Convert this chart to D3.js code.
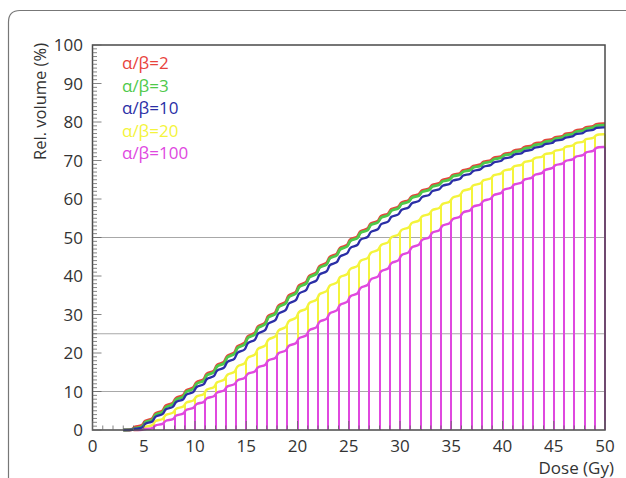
<!DOCTYPE html>
<html>
<head>
<meta charset="utf-8">
<script src="https://cdn.jsdelivr.net/npm/d3@7/dist/d3.min.js"></script>
<style>
  html, body { margin: 0; padding: 0; background: #fff; }
  svg { display: block; }
  text { font-family: "Open Sans", "Noto Sans", sans-serif; }
</style>
</head>
<body>
<svg id="chart" width="626" height="478"></svg>
<script>
// ---- data (bins of 1 Gy, 0..50) ----
const seriesNames = ["α/β=2", "α/β=3", "α/β=10", "α/β=20", "α/β=100"];
const ab2 = [0,0,0,0,0.9,2.6,4.6,6.6,8.6,10.6,12.7,14.9,17.2,19.6,22.1,24.7,27.3,30.0,32.7,35.3,37.9,40.4,42.9,45.3,47.6,49.8,51.9,53.9,55.8,57.6,59.3,60.9,62.4,63.8,65.1,66.4,67.6,68.7,69.8,70.8,71.8,72.7,73.6,74.5,75.3,76.1,77.0,77.9,78.7,79.5];
const ab3 = [0,0,0,0,0.6,2.3,4.3,6.3,8.3,10.3,12.4,14.6,16.9,19.3,21.8,24.4,27.0,29.7,32.4,35.0,37.6,40.1,42.6,45.0,47.3,49.5,51.6,53.6,55.5,57.3,59.0,60.6,62.1,63.5,64.8,66.1,67.3,68.4,69.5,70.5,71.5,72.4,73.3,74.2,75.0,75.8,76.7,77.6,78.4,79.2];
const ab10 = [0,0,0,0,0.4,1.9,3.8,5.7,7.6,9.5,11.5,13.6,15.8,18.1,20.5,23.0,25.5,28.1,30.7,33.3,35.9,38.4,40.8,43.2,45.5,47.7,49.8,51.8,53.8,55.7,57.5,59.2,60.8,62.3,63.7,65.0,66.3,67.5,68.6,69.7,70.7,71.7,72.6,73.5,74.4,75.3,76.1,77.0,77.8,78.6];
const ab20 = [0,0,0,0,0,1.0,2.6,4.2,5.8,7.4,9.0,10.8,12.7,14.7,16.9,19.2,21.5,23.9,26.3,28.7,31.1,33.4,35.7,37.9,40.1,42.2,44.3,46.4,48.4,50.4,52.3,54.1,55.8,57.4,59.0,60.7,62.4,63.8,65.1,66.4,67.6,68.7,69.8,70.8,71.8,72.7,73.7,74.7,75.7,76.8];
const ab100 = [0,0,0,0,0,0.3,1.4,2.6,4.0,5.5,7.0,8.5,10.0,11.6,13.2,14.9,16.6,18.4,20.3,22.2,24.2,26.3,28.5,30.7,32.9,35.1,37.3,39.5,41.6,43.7,45.8,47.8,49.7,51.6,53.4,55.1,56.8,58.3,59.8,61.3,62.7,64.0,65.3,66.5,67.8,69.0,70.1,71.2,72.3,73.5];
const xTicks = [0,5,10,15,20,25,30,35,40,45,50];
const yTicks = [0,10,20,30,40,50,60,70,80,90,100];
const gridValues = [10, 25, 50];
const colors = ["#e8433c", "#4ec94a", "#2a2ea6", "#f4f43c", "#e048df"];

// ---- layout ----
const svg = d3.select("#chart");
const L = 92.5, R = 605, T = 45, B = 430;
const x = d3.scaleLinear().domain([0, 50]).range([L, R]);
const y = d3.scaleLinear().domain([0, 100]).range([B, T]);

// outer rounded border
svg.append("path")
  .attr("d", "M8.5,478 V22 Q8.5,10.5 20,10.5 H626")
  .attr("fill", "none").attr("stroke", "#777").attr("stroke-width", 1.2);

// grid lines
svg.append("g").selectAll("line").data(gridValues).join("line")
  .attr("x1", L).attr("x2", R)
  .attr("y1", d => y(d)).attr("y2", d => y(d))
  .attr("stroke", "#a8a8a8").attr("stroke-width", 1);

function stepPoints(vals) {
  const first = Math.max(0, vals.findIndex(v => v > 0) - 1);
  const pts = [];
  vals.forEach((v, i) => { if (i >= first) { pts.push([i, v]); pts.push([i + 1, v]); } });
  return pts;
}
const smooth = d3.line().x(d => x(d[0])).y(d => y(d[1])).curve(d3.curveBasis);

function edgeValues(vals) {
  return d3.range(0, vals.length + 1).map(i => {
    const a = i > 0 ? vals[i - 1] : 0;
    const b = i < vals.length ? vals[i] : a;
    return (a + b) / 2;
  });
}

// bar-style histograms: vertical lines from the top down to the next histogram below
function bars(vals, below, color, width) {
  const g = svg.append("g");
  const top = edgeValues(vals);
  const bot = below ? edgeValues(below) : top.map(() => 0);
  const edges = top.map((v, e) => ({ e, v, b: bot[e] })).filter(d => d.v > 0);
  g.selectAll("line.v").data(edges).join("line")
    .attr("class", "v")
    .attr("x1", d => Math.round(x(d.e))).attr("x2", d => Math.round(x(d.e)))
    .attr("y1", d => y(d.v)).attr("y2", d => y(d.b))
    .attr("stroke", color).attr("stroke-width", width);
  g.append("path").datum(stepPoints(vals)).attr("d", smooth)
    .attr("fill", "none").attr("stroke", color).attr("stroke-width", width + 0.4);
}

function stepLine(vals, color, width) {
  svg.append("path").datum(stepPoints(vals)).attr("d", smooth)
    .attr("fill", "none").attr("stroke", color).attr("stroke-width", width);
}

bars(ab20, ab100, colors[3], 2);
bars(ab100, null, colors[4], 2);
stepLine(ab2, colors[0], 3.2);
stepLine(ab3, colors[1], 2.8);
stepLine(ab10, colors[2], 2.3);

// frame
svg.append("rect").attr("x", L).attr("y", T).attr("width", R - L).attr("height", B - T)
  .attr("fill", "none").attr("stroke", "#4a4a4a").attr("stroke-width", 1.5);

// y ticks
const yMinor = d3.range(0, 101, 1);
svg.append("g").selectAll("line").data(yMinor).join("line")
  .attr("x1", L).attr("x2", d => L + (d % 10 === 0 ? 9 : 4.5))
  .attr("y1", d => y(d)).attr("y2", d => y(d))
  .attr("stroke", "#666").attr("stroke-width", 0.8);
// x ticks
const xMinor = d3.range(0, 51, 1);
svg.append("g").selectAll("line").data(xMinor).join("line")
  .attr("x1", d => x(d)).attr("x2", d => x(d))
  .attr("y1", B).attr("y2", d => B - (d % 5 === 0 ? 9 : 4.5))
  .attr("stroke", "#666").attr("stroke-width", 0.8);

// tick labels
svg.append("g").selectAll("text").data(yTicks).join("text")
  .attr("x", 83).attr("y", d => y(d)).attr("dy", "0.36em")
  .attr("text-anchor", "end").attr("font-size", 17).attr("fill", "#333")
  .text(d => d);
svg.append("g").selectAll("text").data(xTicks).join("text")
  .attr("x", d => x(d)).attr("y", 452)
  .attr("text-anchor", "middle").attr("font-size", 17).attr("fill", "#333")
  .text(d => d);

// axis titles
svg.append("text").attr("x", 614).attr("y", 474).attr("text-anchor", "end")
  .attr("font-size", 17).attr("fill", "#333").text("Dose (Gy)");
svg.append("text").attr("transform", "translate(46,43) rotate(-90)")
  .attr("text-anchor", "end").attr("font-size", 16.5).attr("fill", "#333")
  .text("Rel. volume (%)");

// legend
svg.append("g").selectAll("text").data(seriesNames).join("text")
  .attr("x", 122).attr("y", (d, i) => 63 + i * 22.5).attr("dy", "0.36em")
  .attr("font-size", 17).attr("fill", (d, i) => colors[i])
  .text(d => d);
</script>
</body>
</html>
